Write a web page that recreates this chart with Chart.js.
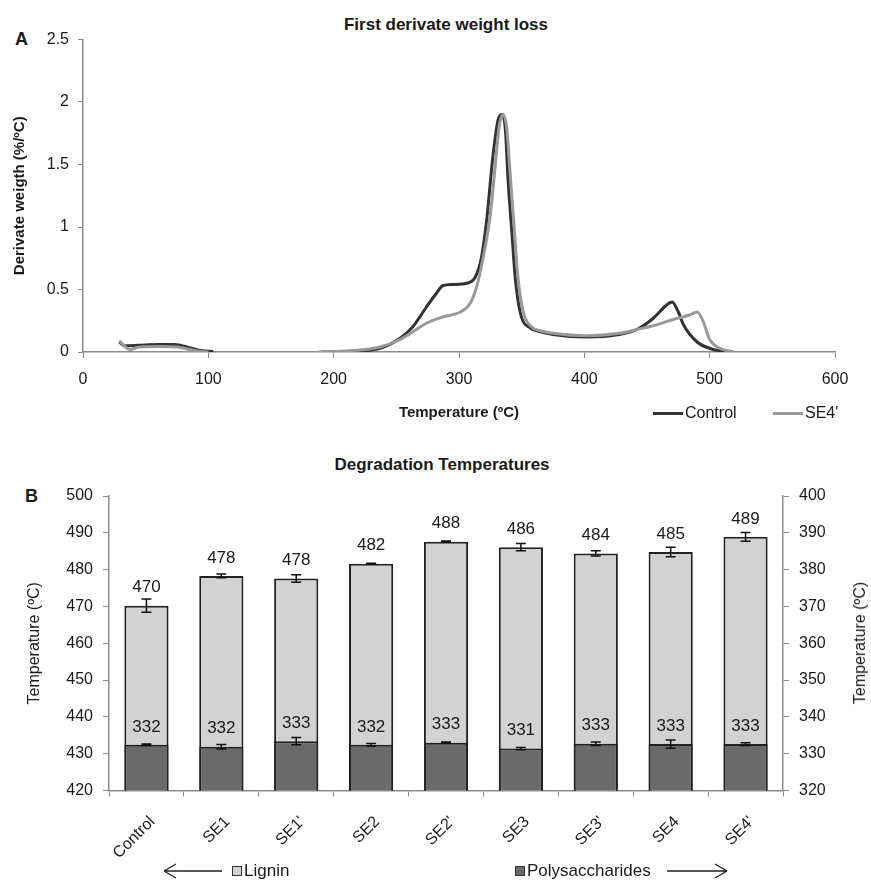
<!DOCTYPE html>
<html>
<head>
<meta charset="utf-8">
<script src="https://cdn.jsdelivr.net/npm/chart.js@4.4.1/dist/chart.umd.min.js"></script>
<style>
  body { margin: 0; background: #fff; font-family: "Liberation Sans", Arial, sans-serif; color: #1a1a1a; }
  #page { position: relative; width: 871px; height: 881px; overflow: hidden; }
  .box { position: absolute; left: 0; width: 871px; }
  .txt { position: absolute; white-space: nowrap; line-height: 20px; }
  .title { font-weight: bold; font-size: 17px; transform: translateX(-50%); }
  .letter { font-weight: bold; font-size: 18px; }
  .swatch { position: absolute; height: 3px; width: 30px; }
  .sq { position: absolute; width: 8px; height: 8px; border: 1px solid #333; }
</style>
</head>
<body>
<div id="page">
  <div class="txt title" style="left:446px; top:15px;">First derivate weight loss</div>
  <div class="txt letter" style="left:15px; top:29px;">A</div>
  <div class="box" style="top:0; height:430px;"><canvas id="chartA"></canvas></div>
  <div class="swatch" style="left:653px; top:412px; background:#333;"></div>
  <div class="txt" style="left:685px; top:403px; font-size:16px;">Control</div>
  <div class="swatch" style="left:773px; top:412px; background:#999;"></div>
  <div class="txt" style="left:805px; top:403px; font-size:16px;">SE4'</div>

  <div class="txt title" style="left:442px; top:455px;">Degradation Temperatures</div>
  <div class="txt letter" style="left:25px; top:486px;">B</div>
  <div class="box" style="top:430px; height:451px;"><canvas id="chartB"></canvas></div>
  <div class="txt" style="left:860px; top:643px; font-size:16px; transform:translate(-50%,-50%) rotate(-90deg);">Temperature (ºC)</div>

  <svg style="position:absolute; left:160px; top:861px;" width="64" height="20">
    <path d="M4 10 H62 M4 10 L16 3 M4 10 L16 17" stroke="#222" stroke-width="1.3" fill="none"/>
  </svg>
  <div class="sq" style="left:232px; top:866px; background:#d2d2d2;"></div>
  <div class="txt" style="left:244px; top:861px; font-size:17px;">Lignin</div>
  <div class="sq" style="left:515px; top:866px; background:#6a6a6a;"></div>
  <div class="txt" style="left:527px; top:861px; font-size:17px;">Polysaccharides</div>
  <svg style="position:absolute; left:665px; top:861px;" width="66" height="20">
    <path d="M2 10 H62 M62 10 L50 3 M62 10 L50 17" stroke="#222" stroke-width="1.3" fill="none"/>
  </svg>
</div>

<script>
// panel A: first derivative of weight loss
const controlTemp = [29, 33, 45, 60, 73, 85, 95, 104, 150, 190, 213, 237, 253, 263, 274, 282, 287, 295, 306, 313, 318, 322, 327, 331, 334, 337, 339, 342, 345, 349, 357, 362, 375, 402, 428, 442, 455, 465, 470, 475, 479, 490, 503, 515];
const controlDtg = [0.08, 0.05, 0.055, 0.06, 0.06, 0.035, 0.01, 0.005, null, 0, 0.005, 0.03, 0.11, 0.2, 0.36, 0.47, 0.53, 0.54, 0.55, 0.6, 0.76, 1.05, 1.56, 1.85, 1.9, 1.78, 1.4, 0.98, 0.58, 0.31, 0.19, 0.17, 0.14, 0.12, 0.14, 0.18, 0.27, 0.37, 0.4, 0.32, 0.22, 0.08, 0.02, 0];
const se4Temp = [29, 33, 37, 45, 60, 75, 90, 100, 150, 187, 213, 237, 253, 263, 274, 287, 301, 309, 314, 319, 325, 329, 332, 335, 338, 341, 344, 347, 351, 358, 365, 375, 402, 428, 442, 455, 471, 485, 490, 495, 500, 508, 519];
const se4Dtg = [0.09, 0.05, 0.02, 0.04, 0.045, 0.04, 0.01, 0, null, 0, 0.01, 0.04, 0.1, 0.16, 0.23, 0.28, 0.32, 0.39, 0.52, 0.74, 1.1, 1.5, 1.8, 1.9, 1.8, 1.4, 1.0, 0.6, 0.33, 0.2, 0.17, 0.15, 0.13, 0.15, 0.18, 0.21, 0.26, 0.3, 0.32, 0.24, 0.1, 0.03, 0];

// panel B: degradation temperatures
const samples = ["Control", "SE1", "SE1'", "SE2", "SE2'", "SE3", "SE3'", "SE4", "SE4'"];
const ligninTemp = [470.2, 478.3, 477.6, 481.6, 487.6, 486.1, 484.4, 484.8, 488.9];
const ligninErr = [1.8, 0.5, 1.0, 0.15, 0.15, 1.0, 0.7, 1.3, 1.2];
const polyTemp = [332.4, 331.9, 333.4, 332.4, 333.0, 331.4, 332.7, 332.6, 332.6];
const polyErr = [0.2, 0.6, 1.0, 0.4, 0.15, 0.3, 0.5, 1.1, 0.4];

Chart.defaults.font.family = "'Liberation Sans', Arial, sans-serif";
Chart.defaults.color = "#1a1a1a";
Chart.defaults.animation = false;

const axisGray = "#8c8c8c";

function toPoints(xs, ys) {
  return xs.map((x, i) => ({ x: x, y: ys[i] }));
}

new Chart(document.getElementById("chartA"), {
  type: "line",
  data: {
    datasets: [
      { label: "Control", data: toPoints(controlTemp, controlDtg), borderColor: "#333", borderWidth: 3, order: 1 },
      { label: "SE4'", data: toPoints(se4Temp, se4Dtg), borderColor: "#999", borderWidth: 3, order: 0 },
    ],
  },
  options: {
    responsive: true,
    maintainAspectRatio: false,
    layout: { padding: { top: 39.5, left: 8, right: 36, bottom: 8 } },
    elements: { point: { radius: 0 }, line: { cubicInterpolationMode: "monotone" } },
    plugins: { legend: { display: false }, tooltip: { enabled: false } },
    scales: {
      x: {
        type: "linear",
        min: 0,
        max: 600,
        ticks: { stepSize: 100, padding: 12, font: { size: 16 } },
        grid: { drawOnChartArea: false, tickLength: 6, color: axisGray },
        border: { color: axisGray, width: 1.5 },
        title: { display: true, text: "Temperature (ºC)", font: { size: 15, weight: "bold" }, padding: 0 },
        afterFit: (scale) => { scale.height = 70; },
      },
      y: {
        min: 0,
        max: 2.5,
        ticks: { stepSize: 0.5, padding: 9, font: { size: 16 }, callback: (value) => String(value) },
        grid: { drawOnChartArea: false, tickLength: 5, color: axisGray },
        border: { color: axisGray, width: 1.5 },
        title: { display: true, text: "Derivate weigth (%/ºC)", font: { size: 15, weight: "bold" }, padding: { top: 3 } },
        afterFit: (scale) => { scale.width = 75; },
      },
    },
  },
});

const barAnnotations = {
  id: "barAnnotations",
  afterDatasetsDraw(chart) {
    const ctx = chart.ctx;
    const sets = [
      { index: 1, values: ligninTemp, errors: ligninErr },
      { index: 0, values: polyTemp, errors: polyErr },
    ];
    ctx.save();
    sets.forEach((set) => {
      const meta = chart.getDatasetMeta(set.index);
      const scale = chart.scales[meta.yAxisID];
      meta.data.forEach((bar, i) => {
        const hi = scale.getPixelForValue(set.values[i] + set.errors[i]);
        const lo = scale.getPixelForValue(set.values[i] - set.errors[i]);
        ctx.strokeStyle = "#111";
        ctx.lineWidth = 1.5;
        ctx.beginPath();
        ctx.moveTo(bar.x, hi);
        ctx.lineTo(bar.x, lo);
        ctx.moveTo(bar.x - 5, hi);
        ctx.lineTo(bar.x + 5, hi);
        ctx.moveTo(bar.x - 5, lo);
        ctx.lineTo(bar.x + 5, lo);
        ctx.stroke();
        ctx.fillStyle = "#1a1a1a";
        ctx.font = "17px 'Liberation Sans', Arial, sans-serif";
        ctx.textAlign = "center";
        ctx.textBaseline = "middle";
        ctx.fillText(String(Math.round(set.values[i])), bar.x, bar.y - 18);
      });
    });
    ctx.restore();
  },
};

new Chart(document.getElementById("chartB"), {
  type: "bar",
  data: {
    labels: samples,
    datasets: [
      {
        label: "Polysaccharides",
        data: polyTemp,
        yAxisID: "y2",
        backgroundColor: "#6a6a6a",
        borderColor: "#222",
        borderWidth: 2,
        grouped: false,
        barPercentage: 0.59,
        categoryPercentage: 1,
        order: 0,
      },
      {
        label: "Lignin",
        data: ligninTemp,
        yAxisID: "y",
        backgroundColor: "#d2d2d2",
        borderColor: "#222",
        borderWidth: 2,
        grouped: false,
        barPercentage: 0.59,
        categoryPercentage: 1,
        order: 1,
      },
    ],
  },
  options: {
    responsive: true,
    maintainAspectRatio: false,
    layout: { padding: { top: 66, left: 16, right: 28, bottom: 0 } },
    plugins: { legend: { display: false }, tooltip: { enabled: false } },
    scales: {
      x: {
        ticks: { minRotation: 45, maxRotation: 45, padding: 16, labelOffset: 6, font: { size: 16 } },
        grid: { drawOnChartArea: false, tickLength: 6, color: axisGray },
        border: { color: axisGray, width: 1.5 },
        afterFit: (scale) => { scale.height = 90.5; },
      },
      y: {
        position: "left",
        min: 420,
        max: 500,
        ticks: { stepSize: 10, padding: 10, font: { size: 16 } },
        grid: { drawOnChartArea: false, tickLength: 6, color: axisGray },
        border: { color: axisGray, width: 1.5 },
        title: { display: true, text: "Temperature (ºC)", font: { size: 16 }, padding: { top: 9 } },
        afterFit: (scale) => { scale.width = 93; },
      },
      y2: {
        position: "right",
        min: 320,
        max: 400,
        ticks: { stepSize: 10, padding: 10, font: { size: 16 } },
        grid: { drawOnChartArea: false, tickLength: 6, color: axisGray },
        border: { color: axisGray, width: 1.5 },
        afterFit: (scale) => { scale.width = 60; },
      },
    },
  },
  plugins: [barAnnotations],
});
</script>
</body>
</html>
